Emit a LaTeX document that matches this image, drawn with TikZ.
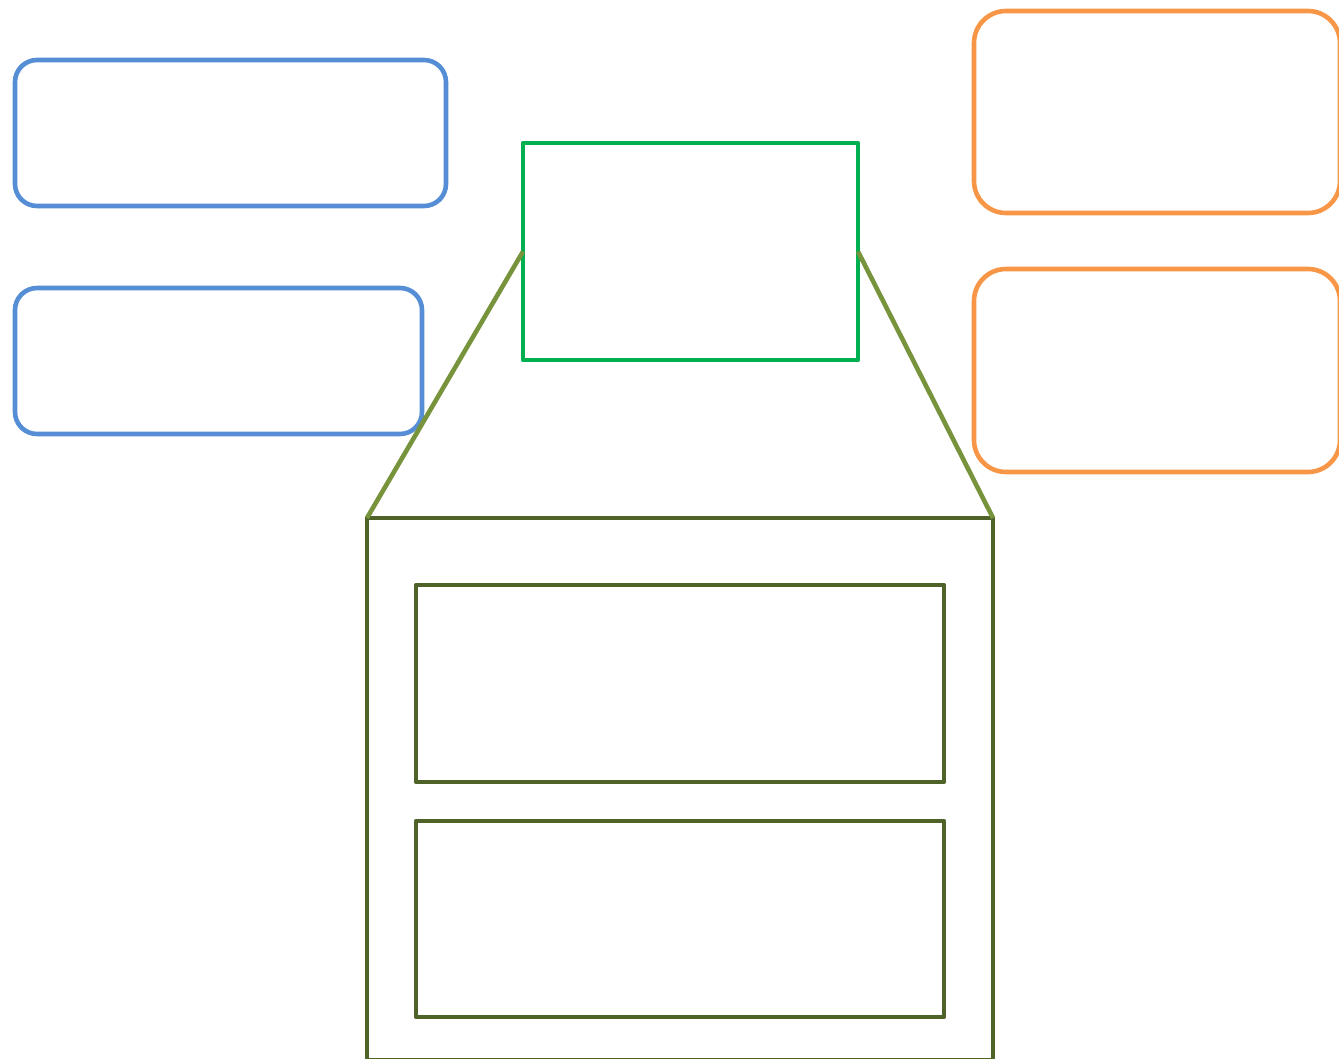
\documentclass[tikz,border=0pt]{standalone}
\begin{document}
\begin{tikzpicture}[x=1pt,y=-1pt,
  box/.style={draw,line width=4.6pt,inner sep=0pt,outer sep=0pt,fill=none,line join=round},
  bluebox/.style={box,draw={rgb,255:red,85;green,142;blue,213},rounded corners=22pt},
  orangebox/.style={box,draw={rgb,255:red,247;green,150;blue,70},rounded corners=32pt},
  greenbox/.style={box,draw={rgb,255:red,0;green,176;blue,80}},
  olivebox/.style={box,draw={rgb,255:red,79;green,98;blue,40}},
  link/.style={line width=4.6pt,draw={rgb,255:red,119;green,147;blue,60}}]
\useasboundingbox (0,0) rectangle (1339,1059);
\clip (0,0) rectangle (1339,1059);
\node[bluebox,minimum width=431pt,minimum height=146pt] (b1) at (230.5,133) {};
\node[bluebox,minimum width=407pt,minimum height=146pt] (b2) at (218.5,361) {};
\node[orangebox,minimum width=366pt,minimum height=202pt] (o1) at (1157,112) {};
\node[orangebox,minimum width=366pt,minimum height=203pt] (o2) at (1157,370.5) {};
\node[greenbox,minimum width=335pt,minimum height=217pt] (g) at (690.5,251.5) {};
\node[olivebox,minimum width=626pt,minimum height=542pt] (big) at (680,789) {};
\node[olivebox,minimum width=528pt,minimum height=197pt] (i1) at (680,683.5) {};
\node[olivebox,minimum width=528pt,minimum height=196pt] (i2) at (680,919) {};
\draw[link] (g.west) -- (big.north west);
\draw[link] (g.east) -- (big.north east);
\end{tikzpicture}
\end{document}
